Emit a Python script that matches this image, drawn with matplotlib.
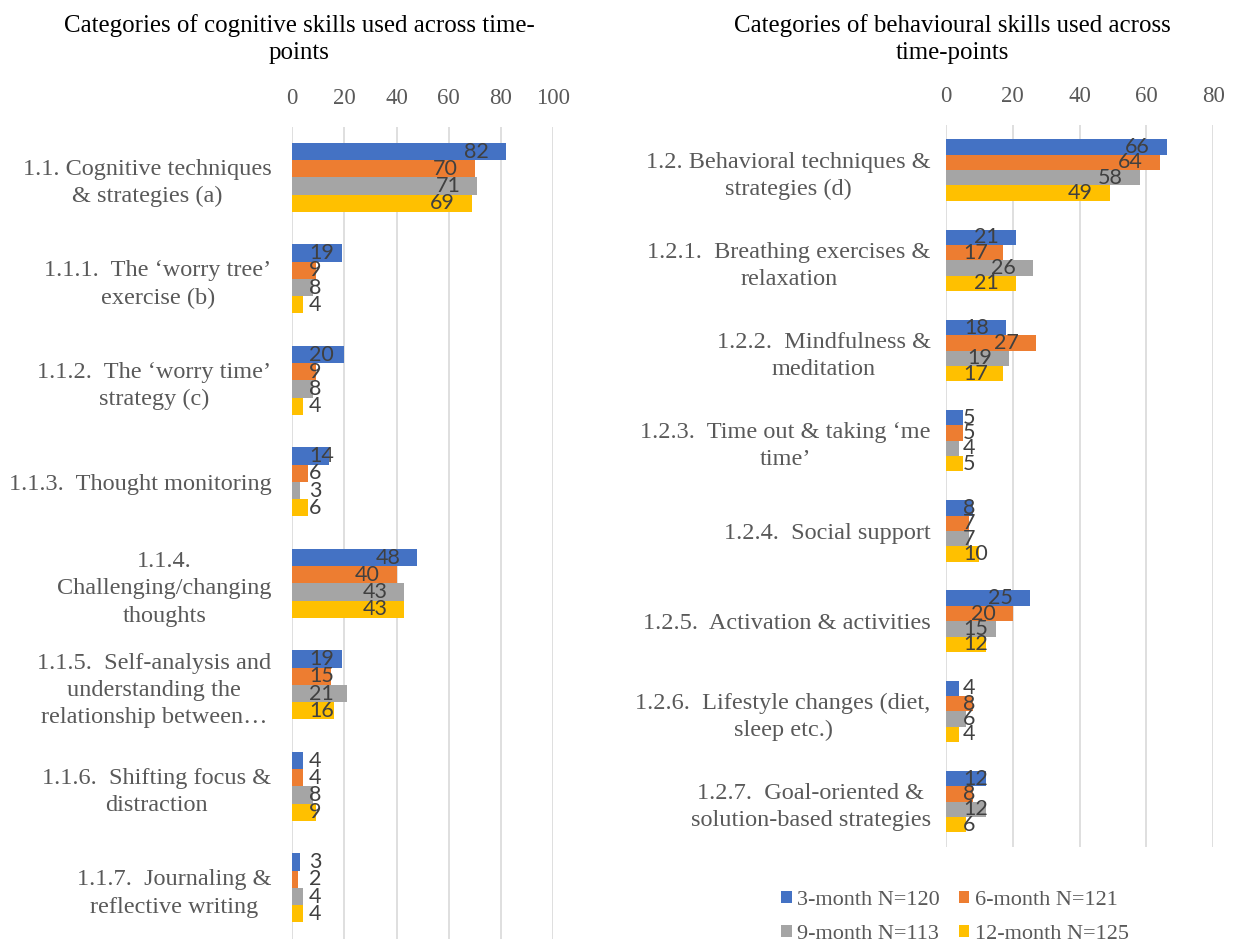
import numpy as np
import matplotlib
matplotlib.use("Agg")
from matplotlib import pyplot as plt

# series (percent of participants)
series_names = ["3-month N=120", "6-month N=121", "9-month N=113", "12-month N=125"]
colors = ["#4472C4", "#ED7D31", "#A5A5A5", "#FFC000"]

cog_labels = [
    "1.1. Cognitive techniques\n& strategies (a)",
    "1.1.1.  The \u2018worry tree\u2019\nexercise (b)",
    "1.1.2.  The \u2018worry time\u2019\nstrategy (c)",
    "1.1.3.  Thought monitoring",
    "1.1.4.\nChallenging/changing\nthoughts",
    "1.1.5.  Self-analysis and\nunderstanding the\nrelationship between\u2026",
    "1.1.6.  Shifting focus &\ndistraction",
    "1.1.7.  Journaling &\nreflective writing",
]
cog_3m = [82, 19, 20, 14, 48, 19, 4, 3]
cog_6m = [70, 9, 9, 6, 40, 15, 4, 2]
cog_9m = [71, 8, 8, 3, 43, 21, 8, 4]
cog_12m = [69, 4, 4, 6, 43, 16, 9, 4]

beh_labels = [
    "1.2. Behavioral techniques &\nstrategies (d)",
    "1.2.1.  Breathing exercises &\nrelaxation",
    "1.2.2.  Mindfulness &\nmeditation",
    "1.2.3.  Time out & taking \u2018me\ntime\u2019",
    "1.2.4.  Social support",
    "1.2.5.  Activation & activities",
    "1.2.6.  Lifestyle changes (diet,\nsleep etc.)",
    "1.2.7.  Goal-oriented &\nsolution-based strategies",
]
beh_3m = [66, 21, 18, 5, 8, 25, 4, 12]
beh_6m = [64, 17, 27, 5, 7, 20, 8, 8]
beh_9m = [58, 26, 19, 4, 7, 15, 6, 12]
beh_12m = [49, 21, 17, 5, 10, 12, 4, 6]

SERIF = "Liberation Serif"
GREY = "#595959"
PAD_PT = 12.2  # ~17 px gap used by the value labels
VAL_SIZE = 15.5

W, H = 1234, 948
fig = plt.figure(figsize=(W / 100, H / 100), dpi=100)
renderer = fig.canvas.get_renderer()


def panel(rect, labels, data, xmax, title, title_xy, label_pad):
    ax = fig.add_axes(rect)
    n = len(labels)
    y = np.arange(n)
    bh = 0.17
    bars = []
    for i, vals in enumerate(data):
        b = ax.barh(y + (i - 1.5) * bh, vals, height=bh, color=colors[i], zorder=2)
        bars.append(b)
    ax.set_xlim(0, xmax)
    ax.set_ylim(n - 0.5, -0.5)
    ax.set_xticks(np.arange(0, xmax + 1, 20))
    ax.xaxis.tick_top()
    ax.grid(axis="x", color="#D9D9D9", linewidth=1.2, zorder=0)
    ax.set_axisbelow(True)
    for s in ax.spines.values():
        s.set_visible(False)
    ax.tick_params(axis="x", length=0, pad=13, labelcolor=GREY, labelsize=16.5)
    ax.tick_params(axis="y", length=0, pad=label_pad, labelcolor=GREY, labelsize=17.5)
    ax.set_yticks(y)
    ax.set_yticklabels(labels, fontfamily=SERIF)
    for t in ax.get_yticklabels():
        t.set_multialignment("center")
        t.set_linespacing(1.38)
    for t in ax.get_xticklabels():
        t.set_fontfamily(SERIF)

    # value labels: inside end, pushed right of the base when the bar is short
    x0_px = ax.transData.transform((0, 0))[0]
    for b in bars:
        for rect_ in b.patches:
            v = rect_.get_width()
            yc = rect_.get_y() + rect_.get_height() / 2
            txt = ax.annotate(f"{v:g}", xy=(v, yc), xytext=(-PAD_PT, 0),
                              textcoords="offset points", ha="right", va="center",
                              fontsize=VAL_SIZE, fontfamily="Lato", color="#404040", zorder=3)
            ext = txt.get_window_extent(renderer)
            if ext.x0 < x0_px + PAD_PT * 100 / 72:
                txt.remove()
                ax.annotate(f"{v:g}", xy=(0, yc), xytext=(PAD_PT, 0),
                            textcoords="offset points", ha="left", va="center",
                            fontsize=VAL_SIZE, fontfamily="Lato", color="#404040", zorder=3)

    fig.text(title_xy[0], title_xy[1], title, ha="center", va="center",
             fontsize=17.9, fontfamily=SERIF, color="black", linespacing=1.25)
    return ax, bars


ax1, bars1 = panel([292.3 / W, 9.3 / H, 260.7 / W, 812 / H], cog_labels,
                   [cog_3m, cog_6m, cog_9m, cog_12m], 100,
                   "Categories of cognitive skills used across time-\npoints",
                   (299 / W, 1 - 39 / H), 15)
ax2, bars2 = panel([946 / W, 101.3 / H, 267.3 / W, 721.7 / H], beh_labels,
                   [beh_3m, beh_6m, beh_9m, beh_12m], 80,
                   "Categories of behavioural skills used across\ntime-points",
                   (952 / W, 1 - 39 / H), 11)

# legend fills column-wise, so order handles to read row-wise like the original
order = [0, 2, 1, 3]
fig.legend([bars2[i][0] for i in order], [series_names[i] for i in order], ncol=2,
           loc="center", bbox_to_anchor=(955 / W, 1 - 917.5 / H), frameon=False,
           prop={"family": SERIF, "size": 16}, labelcolor=GREY,
           handlelength=0.47, handleheight=0.47, handletextpad=0.25,
           columnspacing=0.85, labelspacing=0.65, borderpad=0)

fig.savefig("out.png", dpi=100)
